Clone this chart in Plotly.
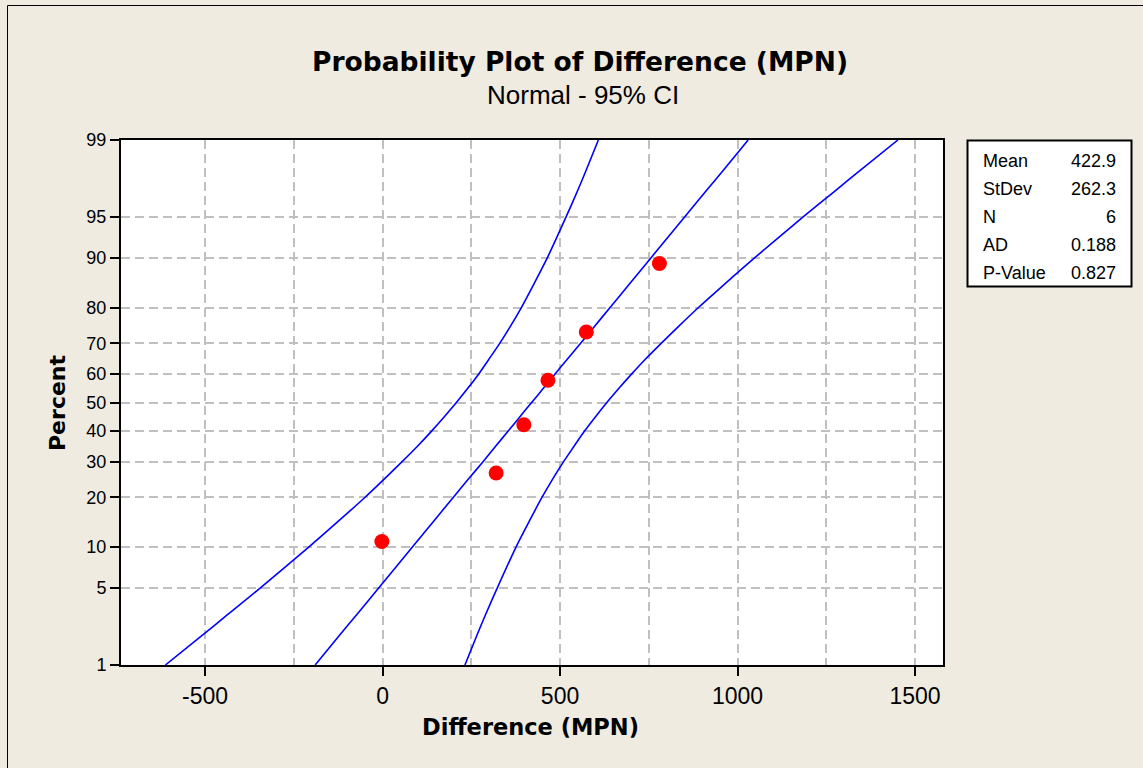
from statistics import NormalDist
import plotly.graph_objects as go

# ---- data -------------------------------------------------------------
# Observed differences (MPN) and their median-rank plotting positions (%)
differences = [-2, 320, 398, 466, 574, 780]
plot_percent = [10.9, 26.6, 42.2, 57.8, 73.4, 89.1]

# Fitted normal line and 95% confidence band, sampled at percent levels
band_percent = [1, 2, 3, 5, 10, 15, 20, 25, 30, 35, 40, 45, 50,
                55, 60, 65, 70, 75, 80, 85, 90, 95, 97, 98, 99]
fit_x = [-190, -119, -73, -11, 84, 148, 199, 243, 283, 319, 354, 387, 420,
         453, 486, 521, 558, 597, 641, 692, 756, 851, 913, 959, 1030]
band_lower_x = [-612, -504, -437, -345, -208, -119, -50, 6, 55, 99, 138, 174, 208,
                240, 271, 300, 330, 360, 391, 424, 464, 517, 550, 573, 608]
band_upper_x = [232, 267, 290, 323, 376, 416, 449, 480, 510, 540, 569, 600, 632,
                666, 702, 741, 785, 834, 890, 959, 1048, 1185, 1277, 1344, 1452]

# Axis ticks
y_ticks = [1, 5, 10, 20, 30, 40, 50, 60, 70, 80, 90, 95, 99]
x_ticks = [-500, 0, 500, 1000, 1500]
x_range = [-737, 1579]

# Summary statistics shown beside the plot
stat_names = ["Mean", "StDev", "N", "AD", "P-Value"]
stat_values = ["422.9", "262.3", "6", "0.188", "0.827"]

# ---- probability scale -------------------------------------------------
nd = NormalDist()


def prob(p):
    return nd.inv_cdf(p / 100.0)


# ---- layout geometry (pixels) -----------------------------------------
W, H = 1143, 768
PL, PR, PT, PB = 121, 943, 140, 665


def fx(px):
    return (px - PL) / (PR - PL)


def fy(py):
    return (PB - py) / (PB - PT)


BG = "#EFEBE1"
BLUE = "#0000FF"
GRID = "#C0C0C0"
SANS = "Liberation Sans, Arial, sans-serif"
BOLD = "DejaVu Sans, Verdana, sans-serif"

fig = go.Figure()

for xs in (band_lower_x, fit_x, band_upper_x):
    fig.add_trace(go.Scatter(
        x=xs, y=[prob(p) for p in band_percent],
        mode="lines",
        line=dict(color=BLUE, width=1.6, shape="spline", smoothing=0.8),
        hoverinfo="skip", showlegend=False,
    ))

fig.add_trace(go.Scatter(
    x=differences, y=[prob(p) for p in plot_percent],
    mode="markers", marker=dict(color="#FF0000", size=15, line=dict(width=0)),
    showlegend=False,
))

fig.update_xaxes(
    range=x_range, tickmode="array", tickvals=x_ticks,
    ticktext=[str(v) for v in x_ticks],
    showgrid=True, gridcolor=GRID, gridwidth=1.5, griddash="9px,5px",
    minor=dict(tickmode="linear", dtick=250, tick0=0, showgrid=True,
               gridcolor=GRID, gridwidth=1.5, griddash="9px,5px", ticks=""),
    showline=True, linecolor="black", linewidth=2, mirror=True,
    ticks="outside", ticklen=9, tickwidth=1.5, tickcolor="black",
    tickfont=dict(family=SANS, size=23, color="black"),
    zeroline=False, fixedrange=True,
)

fig.update_yaxes(
    range=[prob(1), prob(99)], tickmode="array",
    tickvals=[prob(p) for p in y_ticks], ticktext=[str(p) for p in y_ticks],
    showgrid=True, gridcolor=GRID, gridwidth=1.5, griddash="9px,5px",
    showline=True, linecolor="black", linewidth=2, mirror=True,
    ticks="outside", ticklen=9, tickwidth=1.5, tickcolor="black",
    tickfont=dict(family=SANS, size=18, color="black"),
    zeroline=False, fixedrange=True,
)

shapes = [
    # outer frame (left and top edges)
    dict(type="line", xref="paper", yref="paper", layer="above",
         x0=fx(7.5), x1=fx(7.5), y0=fy(5.5), y1=fy(820),
         line=dict(color="black", width=1)),
    dict(type="line", xref="paper", yref="paper", layer="above",
         x0=fx(7.5), x1=fx(1200), y0=fy(5.5), y1=fy(5.5),
         line=dict(color="black", width=1)),
    # statistics box
    dict(type="rect", xref="paper", yref="paper", layer="above",
         x0=fx(967.5), x1=fx(1131.5), y0=fy(140.5), y1=fy(286.5),
         fillcolor="white", line=dict(color="black", width=2)),
]

annotations = [
    dict(text="<b>Probability Plot of Difference (MPN)</b>",
         x=fx(580), y=fy(61), xanchor="center", yanchor="middle",
         font=dict(family=BOLD, size=26.5, color="black")),
    dict(text="Normal - 95% CI",
         x=fx(583), y=fy(95), xanchor="center", yanchor="middle",
         font=dict(family=SANS, size=26, color="black")),
    dict(text="<b>Difference (MPN)</b>",
         x=fx(530), y=fy(727), xanchor="center", yanchor="middle",
         font=dict(family=BOLD, size=22.5, color="black")),
    dict(text="<b>Percent</b>", textangle=-90,
         x=fx(57), y=fy(403), xanchor="center", yanchor="middle",
         font=dict(family=BOLD, size=22, color="black")),
]

for i, (name, val) in enumerate(zip(stat_names, stat_values)):
    row_y = fy(161 + 28 * i)
    annotations.append(dict(text=name, x=fx(981), y=row_y,
                            xanchor="left", yanchor="middle",
                            font=dict(family=SANS, size=18, color="black")))
    annotations.append(dict(text=val, x=fx(1118), y=row_y,
                            xanchor="right", yanchor="middle",
                            font=dict(family=SANS, size=18, color="black")))

for a in annotations:
    a.update(xref="paper", yref="paper", showarrow=False)

fig.update_layout(
    width=W, height=H, autosize=False,
    margin=dict(l=PL, r=W - PR, t=PT, b=H - PB, pad=0),
    paper_bgcolor=BG, plot_bgcolor="white",
    shapes=shapes, annotations=annotations,
    showlegend=False,
)

fig.write_html("out.html")
